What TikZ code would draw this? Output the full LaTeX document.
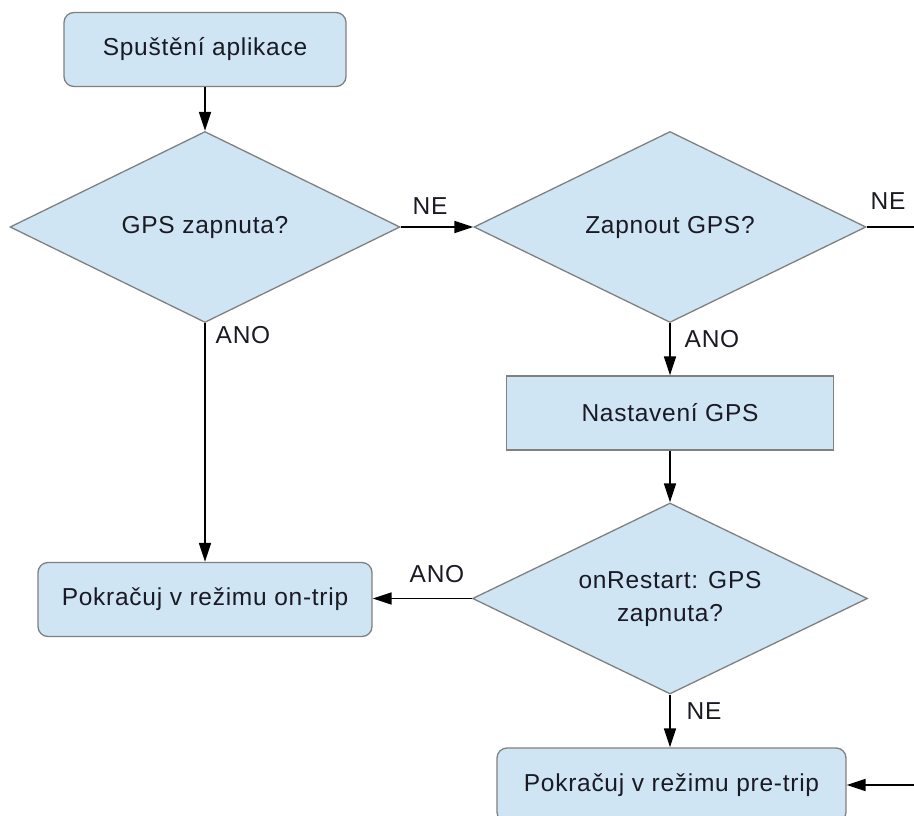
\documentclass[tikz,border=0pt]{standalone}
\usepackage{fontspec}
\setmainfont{Liberation Sans}[LetterSpace=3]
\usetikzlibrary{shapes.geometric,arrows.meta}
\definecolor{boxfill}{HTML}{CFE5F3}
\definecolor{boxline}{HTML}{808080}
\definecolor{ink}{HTML}{1A1A24}

\begin{document}
\begin{tikzpicture}[x=1pt,y=-1pt,
  font=\fontsize{24.5}{33}\selectfont, text=ink,
  base/.style={draw=boxline, fill=boxfill, line width=1.3pt, inner sep=0pt},
  roundbox/.style={base, rectangle, rounded corners=10pt, minimum height=74pt},
  plainbox/.style={base, rectangle, minimum height=74pt},
  decision/.style={base, diamond, shape aspect=2.05, minimum height=191pt, align=center},
  flow/.style={draw=black, line width=1.6pt, -{Triangle[length=19pt,width=12pt]}},
  wire/.style={draw=black, line width=1.6pt},
  tag/.style={inner sep=0pt}
]
\path[use as bounding box] (0,0) rectangle (914,816);
\clip (0,0) rectangle (914,816);

% left column
\node[roundbox, minimum width=282pt] (start) at (205,49.5) {Spuštění aplikace};
\node[decision, minimum width=390pt] (gpson) at (205,227) {GPS zapnuta?};
\node[roundbox, minimum width=334pt] (ontrip) at (205,599.5) {Pokračuj v režimu on-trip};

% right column
\node[decision, minimum width=392pt] (askgps) at (670,227) {Zapnout GPS?};
\node[plainbox, minimum width=327pt] (setgps) at (670,413) {Nastavení GPS};
\node[decision, minimum width=395pt] (restart) at (670,598.5) {onRestart: GPS\\zapnuta?};
\node[roundbox, minimum width=349pt] (pretrip) at (671.5,785) {Pokračuj v režimu pre-trip};

% loose ends running off the right edge
\coordinate (outNE) at (930,227);
\coordinate (inPre) at (930,785);

% connectors
\draw[flow] (start) -- (gpson);
\draw[flow] (gpson.east) -- (askgps.west);
\draw[flow] (gpson.south) -- (ontrip.north);
\draw[wire] (askgps.east) -- (outNE);
\draw[flow] (askgps.south) -- (setgps.north);
\draw[flow] (setgps.south) -- (restart.north);
\draw[flow] (restart.west) -- (restart.west -| ontrip.east);
\draw[flow] (restart.south) -- (restart.south |- pretrip.north);
\draw[flow] (inPre) -- (pretrip.east);

% branch labels
\node[tag] (l1) at (430,206) {NE};
\node[tag] (l2) at (888,201) {NE};
\node[tag] (l3) at (243,335) {ANO};
\node[tag] (l4) at (712,339) {ANO};
\node[tag] (l5) at (437,574) {ANO};
\node[tag] (l6) at (704,711) {NE};
\end{tikzpicture}
\end{document}
